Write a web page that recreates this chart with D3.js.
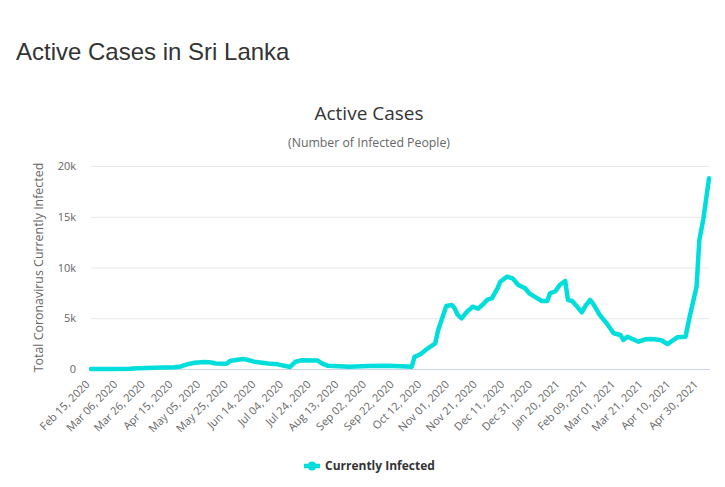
<!DOCTYPE html>
<html>
<head>
<meta charset="utf-8">
<script src="https://cdn.jsdelivr.net/npm/d3@7"></script>
<style>
  html, body { margin: 0; padding: 0; background: #fff; }
  svg { display: block; }
</style>
</head>
<body>
<svg id="chart" width="725" height="487"></svg>
<script>
// ---- Data ----
const pageTitle = "Active Cases in Sri Lanka";
const chartTitle = "Active Cases";
const chartSubtitle = "(Number of Infected People)";
const yAxisTitle = "Total Coronavirus Currently Infected";
const seriesName = "Currently Infected";

const dates = [
  "2020-02-15","2020-03-01","2020-03-14","2020-03-20","2020-04-01","2020-04-15","2020-04-20","2020-04-25",
  "2020-04-30","2020-05-07","2020-05-12","2020-05-15","2020-05-23","2020-05-26","2020-06-04","2020-06-08",
  "2020-06-12","2020-06-22","2020-06-29","2020-07-08","2020-07-12","2020-07-16","2020-07-28","2020-07-31",
  "2020-08-04","2020-08-20","2020-09-02","2020-09-16","2020-09-26","2020-10-04","2020-10-06","2020-10-10",
  "2020-10-15","2020-10-21","2020-10-23","2020-10-29","2020-11-02","2020-11-04","2020-11-06","2020-11-09",
  "2020-11-13","2020-11-15","2020-11-17","2020-11-21","2020-11-24","2020-11-28","2020-12-01","2020-12-05",
  "2020-12-07","2020-12-12","2020-12-14","2020-12-16","2020-12-20","2020-12-25","2020-12-28","2021-01-02",
  "2021-01-06","2021-01-10","2021-01-12","2021-01-16","2021-01-19","2021-01-23","2021-01-25","2021-01-28",
  "2021-01-31","2021-02-04","2021-02-07","2021-02-10","2021-02-12","2021-02-17","2021-02-22","2021-02-27",
  "2021-03-04","2021-03-06","2021-03-09","2021-03-17","2021-03-22","2021-03-26","2021-04-02","2021-04-07",
  "2021-04-14","2021-04-20","2021-04-23","2021-04-28","2021-04-30","2021-05-03","2021-05-07"
];
const activeCases = [
  0, 5, 20, 70, 120, 180, 250, 480,
  620, 700, 640, 540, 520, 820, 980, 880,
  720, 540, 460, 200, 720, 850, 830, 560,
  330, 230, 300, 320, 260, 230, 1200, 1430,
  1970, 2530, 3800, 6200, 6300, 5980, 5390, 4990,
  5650, 5880, 6140, 5950, 6300, 6860, 6960, 7950,
  8600, 9100, 9000, 8930, 8280, 7950, 7460, 7030,
  6700, 6700, 7460, 7680, 8280, 8670, 6800, 6700,
  6240, 5580, 6300, 6800, 6470, 5320, 4500, 3520,
  3350, 2860, 3180, 2690, 2920, 2960, 2860, 2460,
  3120, 3180, 5150, 8110, 12700, 14840, 18790
];
const xTickLabels = [
  "Feb 15, 2020","Mar 06, 2020","Mar 26, 2020","Apr 15, 2020","May 05, 2020","May 25, 2020",
  "Jun 14, 2020","Jul 04, 2020","Jul 24, 2020","Aug 13, 2020","Sep 02, 2020","Sep 22, 2020",
  "Oct 12, 2020","Nov 01, 2020","Nov 21, 2020","Dec 11, 2020","Dec 31, 2020","Jan 20, 2021",
  "Feb 09, 2021","Mar 01, 2021","Mar 21, 2021","Apr 10, 2021","Apr 30, 2021"
];
const yTickValues = [0, 5000, 10000, 15000, 20000];
const yTickLabels = ["0", "5k", "10k", "15k", "20k"];

// ---- Layout ----
const plot = { left: 91, right: 709, top: 166, bottom: 369 };
const lineColor = "#00dedc";
const fontUI = "'Open Sans', 'Noto Sans', sans-serif";

const parseISO = d3.utcParse("%Y-%m-%d");
const parseTick = d3.utcParse("%b %d, %Y");
const data = dates.map((d, i) => ({ date: parseISO(d), value: activeCases[i] }));

const x = d3.scaleUtc()
  .domain([parseISO(dates[0]), parseISO(dates[dates.length - 1])])
  .range([plot.left, plot.right]);
const y = d3.scaleLinear()
  .domain([0, 20000])
  .range([plot.bottom, plot.top]);

const svg = d3.select("#chart");

// Page title
svg.append("text")
  .attr("x", 16).attr("y", 60)
  .attr("font-family", "'Liberation Sans', Arial, sans-serif")
  .attr("font-size", 24)
  .attr("fill", "#333")
  .text(pageTitle);

// Chart title & subtitle
svg.append("text")
  .attr("x", 369).attr("y", 120)
  .attr("text-anchor", "middle")
  .attr("font-family", fontUI)
  .attr("font-size", 19)
  .attr("fill", "#333")
  .text(chartTitle);
svg.append("text")
  .attr("x", 369).attr("y", 147)
  .attr("text-anchor", "middle")
  .attr("font-family", fontUI)
  .attr("font-size", 12.3)
  .attr("fill", "#666")
  .text(chartSubtitle);

// Gridlines + y axis
const yAxis = d3.axisLeft(y)
  .tickValues(yTickValues)
  .tickSize(-(plot.right - plot.left))
  .tickPadding(15)
  .tickFormat((d, i) => yTickLabels[i]);
const gy = svg.append("g")
  .attr("transform", `translate(${plot.left},0)`)
  .call(yAxis);
gy.select(".domain").remove();
gy.selectAll(".tick line").attr("stroke", "#e6e6e6").attr("stroke-width", 1);
gy.selectAll(".tick text")
  .attr("font-family", fontUI)
  .attr("font-size", 11)
  .attr("fill", "#666");

// Y axis title
svg.append("text")
  .attr("transform", `translate(43,${(plot.top + plot.bottom) / 2}) rotate(-90)`)
  .attr("text-anchor", "middle")
  .attr("font-family", fontUI)
  .attr("font-size", 12.4)
  .attr("fill", "#666")
  .text(yAxisTitle);

// X axis
const xTicks = xTickLabels.map(s => parseTick(s));
const xAxis = d3.axisBottom(x)
  .tickValues(xTicks)
  .tickSize(0)
  .tickFormat((d, i) => xTickLabels[i]);
const gx = svg.append("g")
  .attr("transform", `translate(0,${plot.bottom})`)
  .call(xAxis);
gx.select(".domain")
  .attr("stroke", "#ccd6eb")
  .attr("d", `M${plot.left},0.5H${plot.right + 1}`);
gx.selectAll(".tick text")
  .attr("font-family", fontUI)
  .attr("font-size", 11)
  .attr("fill", "#666")
  .attr("text-anchor", "end")
  .attr("dy", null)
  .attr("y", 0)
  .attr("transform", "translate(-1,16) rotate(-45)");

// Line
const line = d3.line()
  .x(d => x(d.date))
  .y(d => y(d.value));
svg.append("path")
  .datum(data)
  .attr("d", line)
  .attr("fill", "none")
  .attr("stroke", lineColor)
  .attr("stroke-width", 4.5)
  .attr("stroke-linejoin", "round")
  .attr("stroke-linecap", "round");

// Legend
const lg = svg.append("g").attr("transform", "translate(304,466)");
lg.append("line")
  .attr("x1", 0).attr("x2", 16).attr("y1", 0).attr("y2", 0)
  .attr("stroke", lineColor).attr("stroke-width", 4.5);
lg.append("circle")
  .attr("cx", 8).attr("cy", 0).attr("r", 4.5)
  .attr("fill", lineColor);
lg.append("text")
  .attr("x", 21).attr("y", 4)
  .attr("font-family", fontUI)
  .attr("font-size", 12)
  .attr("font-weight", "bold")
  .attr("fill", "#333")
  .text(seriesName);
</script>
</body>
</html>
